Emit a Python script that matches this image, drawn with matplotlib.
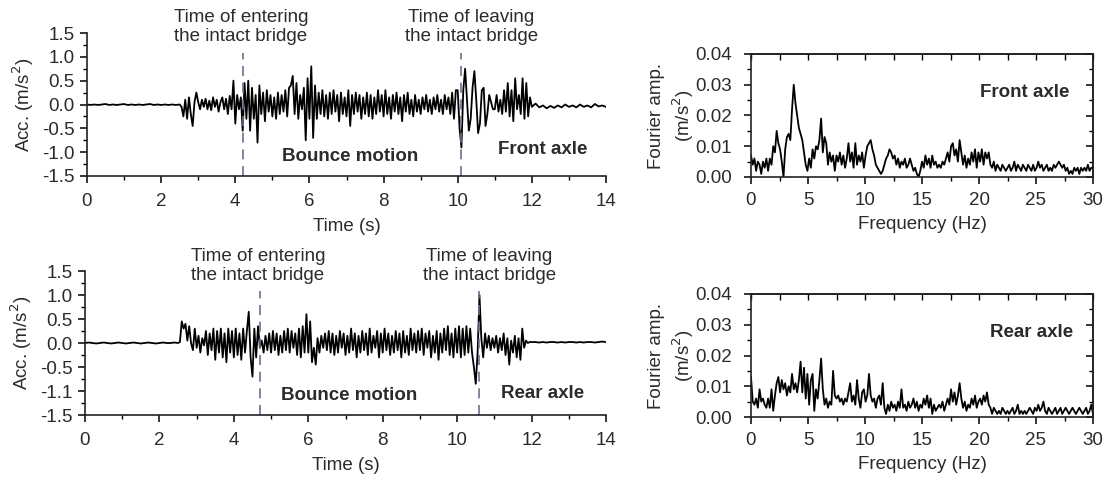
import numpy as np
import matplotlib
matplotlib.use("Agg")
import matplotlib.pyplot as plt
from matplotlib.ticker import MultipleLocator

plt.rcParams["font.family"] = ["Liberation Sans", "DejaVu Sans"]
plt.rcParams["font.size"] = 13.5

# ---- data ----
# quiet part before the vehicle reaches the bridge (0 .. 2.4 s, step 0.1 s)
front_lead = [0.0, -0.01, 0.0, -0.01, 0.0, 0.01, -0.01, 0.0, -0.01, 0.0,
              0.01, -0.01, 0.0, -0.01, 0.0, -0.01, 0.0, 0.01, -0.01, 0.0,
              -0.01, 0.0, -0.01, 0.0, -0.01]
rear_lead = [0.0, 0.01, 0.0, -0.01, 0.0, 0.01, 0.0, -0.01, 0.0, 0.01,
             0.0, -0.01, 0.0, 0.01, 0.0, -0.01, 0.0, 0.01, 0.0, -0.01,
             0.0, 0.01, 0.0, 0.0, 0.01]

# main record, 2.5 .. 12.0 s, step 0.05 s
front_acc = [
    0.0, -0.05, -0.25, 0.1, -0.3, 0.15, -0.2, -0.45, 0.05, 0.25,
    0.05, -0.1, 0.1, -0.05, 0.12, -0.1, 0.08, -0.12, 0.15, -0.05,
    0.1, -0.15, 0.05, 0.15, -0.1, 0.12, -0.2, 0.18, -0.1, 0.5,
    -0.4, 0.2, -0.1, 0.15, -0.55, 0.45, -0.3, 0.5, -0.55, 0.35,
    -0.3, 0.2, -0.8, 0.4, -0.2, 0.25, -0.35, 0.3, -0.15, 0.2,
    -0.25, 0.15, -0.3, 0.25, -0.2, 0.2, -0.15, 0.3, -0.25, 0.35,
    0.4, 0.6, -0.2, 0.45, -0.3, 0.2, -0.1, 0.35, -0.75, 0.55,
    -0.3, 0.8, -0.7, 0.4, -0.3, 0.25, -0.2, 0.3, -0.25, 0.2,
    -0.3, 0.25, -0.2, 0.3, -0.15, 0.2, -0.35, 0.25, -0.2, 0.15,
    -0.25, 0.3, -0.45, 0.2, -0.2, 0.25, -0.15, 0.2, -0.3, 0.15,
    -0.2, 0.25, -0.25, 0.2, -0.3, 0.15, -0.2, 0.3, -0.15, 0.2,
    -0.25, 0.3, -0.2, 0.15, -0.3, 0.2, -0.15, 0.25, -0.2, 0.15,
    -0.35, 0.2, -0.15, 0.25, -0.2, 0.1, -0.25, 0.2, -0.15, 0.1,
    -0.2, 0.15, -0.1, 0.2, -0.15, 0.1, -0.2, 0.15, -0.1, 0.2,
    -0.15, 0.1, -0.2, 0.2, -0.1, 0.15, -0.2, 0.25, -0.3, 0.3,
    0.3, -0.5, -0.9, 0.3, 0.75, 0.1, -0.55, -0.3, 0.35, 0.7,
    0.1, -0.6, -0.4, 0.3, 0.35, -0.45, -0.2, 0.2, 0.05, -0.1,
    -0.1, 0.2, -0.15, 0.1, -0.2, 0.3, -0.15, 0.45, -0.25, 0.3,
    -0.35, 0.55, -0.1, 0.2, -0.2, 0.55, -0.3, 0.45, -0.25, 0.15,
    -0.05,
]
rear_acc = [
    0.0, 0.02, 0.45, 0.3, 0.4, 0.05, 0.35, 0.0, -0.15, 0.3,
    -0.1, 0.15, -0.2, 0.1, -0.05, 0.25, -0.25, 0.2, -0.15, 0.3,
    -0.35, 0.25, -0.2, 0.3, -0.3, 0.2, -0.4, 0.3, -0.2, 0.25,
    -0.3, 0.3, -0.25, 0.2, -0.35, 0.3, -0.2, 0.25, 0.65, -0.3,
    -0.7, 0.3, -0.3, 0.35, -0.1, 0.05, -0.2, 0.15, -0.15, 0.2,
    -0.2, 0.25, -0.15, 0.2, -0.25, 0.15, -0.2, 0.25, -0.15, 0.3,
    -0.2, 0.25, -0.1, 0.2, -0.25, 0.3, -0.3, 0.35, -0.2, 0.6,
    -0.2, 0.45, -0.4, -0.1, -0.45, 0.1, -0.2, 0.15, -0.1, 0.2,
    -0.15, 0.25, -0.2, 0.2, -0.25, 0.15, -0.2, 0.25, -0.1, 0.2,
    -0.25, 0.15, -0.2, 0.3, -0.15, 0.2, -0.3, 0.15, -0.2, 0.25,
    -0.15, 0.2, -0.25, 0.3, -0.2, 0.15, -0.1, 0.25, -0.3, 0.2,
    -0.2, 0.3, -0.15, 0.2, -0.25, 0.15, -0.2, 0.25, -0.15, 0.2,
    -0.3, 0.25, -0.2, 0.15, -0.25, 0.3, -0.15, 0.2, -0.2, 0.25,
    -0.15, 0.3, -0.25, 0.2, -0.1, 0.25, -0.3, 0.15, -0.2, 0.25,
    -0.35, 0.2, -0.2, 0.3, -0.15, 0.35, -0.25, 0.2, -0.3, 0.3,
    -0.2, 0.35, -0.3, 0.3, -0.25, 0.35, -0.2, 0.3, -0.2, -0.5,
    -0.85, -0.2, 1.0, 0.1, -0.3, 0.2, -0.1, 0.15, -0.15, 0.1,
    -0.1, 0.15, -0.2, 0.1, -0.15, 0.2, -0.25, 0.1, -0.45, 0.05,
    -0.2, 0.15, -0.3, 0.1, -0.35, 0.3, -0.1, 0.05, 0.0, 0.02,
    0.02,
]

# after leaving (12.1 .. 14.0 s, step 0.1 s)
front_tail = [0.02, -0.06, -0.02, -0.08, -0.03, -0.07, -0.02, -0.06, 0.0, -0.05,
              -0.02, -0.06, 0.0, -0.05, -0.02, -0.06, 0.01, -0.04, -0.02, -0.05]
rear_tail = [0.02, 0.01, 0.02, 0.01, 0.02, 0.02, 0.01, 0.02, 0.01, 0.02,
             0.02, 0.01, 0.02, 0.01, 0.02, 0.02, 0.01, 0.02, 0.03, 0.02]

# Fourier amplitude, 0 .. 30 Hz, step 0.15 Hz
front_fft = [
    0.007, 0.004, 0.006, 0.002, 0.005, 0.004, 0.001, 0.005, 0.003, 0.006,
    0.002, 0.006, 0.004, 0.010, 0.008, 0.015, 0.011, 0.009, 0.005, 0.000,
    0.009, 0.013, 0.014, 0.012, 0.022, 0.030, 0.024, 0.020, 0.016, 0.014,
    0.012, 0.008, 0.004, 0.002, 0.006, 0.003, 0.009, 0.006, 0.010, 0.009,
    0.012, 0.019, 0.008, 0.013, 0.011, 0.004, 0.008, 0.005, 0.007, 0.002,
    0.007, 0.005, 0.008, 0.004, 0.007, 0.003, 0.006, 0.011, 0.005, 0.008,
    0.003, 0.011, 0.004, 0.007, 0.005, 0.008, 0.003, 0.007, 0.010, 0.011,
    0.012, 0.009, 0.007, 0.004, 0.003, 0.002, 0.001, 0.002, 0.004, 0.006,
    0.007, 0.009, 0.008, 0.006, 0.007, 0.004, 0.006, 0.003, 0.005, 0.004,
    0.006, 0.003, 0.004, 0.006, 0.004, 0.002, 0.003, 0.001, 0.000, 0.002,
    0.005, 0.003, 0.007, 0.004, 0.006, 0.003, 0.007, 0.004, 0.005, 0.003,
    0.004, 0.003, 0.005, 0.004, 0.006, 0.008, 0.005, 0.010, 0.011, 0.007,
    0.009, 0.005, 0.012, 0.008, 0.004, 0.007, 0.003, 0.006, 0.004, 0.008,
    0.005, 0.009, 0.003, 0.008, 0.005, 0.009, 0.004, 0.008, 0.006, 0.008,
    0.004, 0.003, 0.005, 0.002, 0.004, 0.003, 0.002, 0.004, 0.003, 0.002,
    0.003, 0.004, 0.002, 0.003, 0.005, 0.002, 0.004, 0.003, 0.002, 0.004,
    0.003, 0.002, 0.004, 0.003, 0.002, 0.004, 0.002, 0.003, 0.005, 0.003,
    0.004, 0.002, 0.003, 0.004, 0.002, 0.003, 0.002, 0.004, 0.003, 0.004,
    0.005, 0.004, 0.003, 0.004, 0.002, 0.003, 0.001, 0.002, 0.001, 0.003,
    0.002, 0.003, 0.001, 0.003, 0.002, 0.003, 0.002, 0.004, 0.002, 0.003,
    0.003,
]
rear_fft = [
    0.013, 0.005, 0.004, 0.006, 0.003, 0.009, 0.005, 0.006, 0.004, 0.003,
    0.006, 0.003, 0.009, 0.002, 0.007, 0.011, 0.013, 0.008, 0.012, 0.009,
    0.011, 0.007, 0.010, 0.008, 0.014, 0.009, 0.011, 0.008, 0.012, 0.018,
    0.008, 0.016, 0.006, 0.014, 0.004, 0.012, 0.014, 0.002, 0.009, 0.006,
    0.012, 0.019, 0.009, 0.004, 0.006, 0.003, 0.005, 0.004, 0.015, 0.007,
    0.006, 0.007, 0.005, 0.006, 0.004, 0.006, 0.005, 0.008, 0.011, 0.005,
    0.007, 0.004, 0.012, 0.006, 0.003, 0.008, 0.009, 0.005, 0.007, 0.014,
    0.007, 0.005, 0.006, 0.003, 0.006, 0.007, 0.004, 0.011, 0.003, 0.001,
    0.004, 0.002, 0.005, 0.003, 0.004, 0.002, 0.005, 0.003, 0.009, 0.003,
    0.004, 0.002, 0.005, 0.003, 0.004, 0.006, 0.003, 0.005, 0.002, 0.004,
    0.003, 0.006, 0.004, 0.007, 0.003, 0.006, 0.001, 0.004, 0.002, 0.003,
    0.004, 0.003, 0.005, 0.002, 0.004, 0.006, 0.004, 0.009, 0.005, 0.008,
    0.004, 0.007, 0.011, 0.006, 0.003, 0.005, 0.002, 0.004, 0.003, 0.006,
    0.004, 0.007, 0.003, 0.005, 0.006, 0.004, 0.007, 0.005, 0.008, 0.004,
    0.003, 0.001, 0.003, 0.002, 0.001, 0.002, 0.001, 0.003, 0.002, 0.001,
    0.002, 0.001, 0.002, 0.003, 0.001, 0.002, 0.004, 0.001, 0.002, 0.001,
    0.002, 0.001, 0.002, 0.003, 0.002, 0.001, 0.003, 0.002, 0.004, 0.002,
    0.003, 0.005, 0.002, 0.001, 0.003, 0.002, 0.001, 0.002, 0.003, 0.001,
    0.002, 0.003, 0.001, 0.002, 0.003, 0.002, 0.001, 0.002, 0.003, 0.002,
    0.001, 0.002, 0.003, 0.002, 0.001, 0.002, 0.003, 0.001, 0.002, 0.004,
    0.001,
]

enter_time = [4.2, 4.7]
leave_time = [10.1, 10.6]
axle_names = ["Front axle", "Rear axle"]
y_labels_time = [["-1.5", "-1.0", "-0.5", "0.0", "0.5", "1.0", "1.5"],
                 ["-1.5", "-1.1", "-0.5", "0.0", "0.5", "1.0", "1.5"]]

t_lead = np.round(np.arange(len(front_lead)) * 0.1, 3)
t_main = np.round(2.5 + np.arange(len(front_acc)) * 0.05, 3)
t_tail = np.round(12.1 + np.arange(len(front_tail)) * 0.1, 3)
time = np.concatenate([t_lead, t_main, t_tail])
freq = np.round(np.arange(len(front_fft)) * 0.15, 3)

acc_series = [np.concatenate([front_lead, front_acc, front_tail]),
              np.concatenate([rear_lead, rear_acc, rear_tail])]
fft_series = [front_fft, rear_fft]

W, H = 1110, 479
fig = plt.figure(figsize=(W / 100, H / 100), dpi=100)


def px_axes(l, t, r, b):
    return fig.add_axes([l / W, 1 - b / H, (r - l) / W, (b - t) / H])


txt_col = "#2b2b2b"
dash_col = "#6b7090"
fs = 13.5

time_boxes = [(87, 33, 606, 176), (85, 271, 606, 415)]
fft_boxes = [(751, 54, 1093, 177), (751, 294, 1093, 417)]
label_y = [1.63, 1.6]
axle_y = [-0.95, -1.05]
fft_label_x = [0.80, 0.82]

for i in range(2):
    ax = px_axes(*time_boxes[i])
    ax.plot(time, acc_series[i], color="black", lw=1.3)
    ax.set_xlim(0, 14)
    ax.set_ylim(-1.5, 1.5)
    ax.xaxis.set_major_locator(MultipleLocator(2))
    ax.xaxis.set_minor_locator(MultipleLocator(1))
    ax.set_yticks([-1.5, -1.0, -0.5, 0.0, 0.5, 1.0, 1.5])
    ax.set_yticklabels(y_labels_time[i])
    ax.yaxis.set_minor_locator(MultipleLocator(0.25))
    for s in ["top", "right"]:
        ax.spines[s].set_visible(False)
    for s in ["left", "bottom"]:
        ax.spines[s].set_linewidth(1.2)
        ax.spines[s].set_color("#222222")
    ax.tick_params(which="major", direction="out", length=5, width=1.1,
                   labelsize=fs, labelcolor=txt_col)
    ax.tick_params(axis="x", which="major", pad=7)
    ax.tick_params(axis="y", which="major", pad=4)
    ax.tick_params(which="minor", direction="out", length=3, width=1.0)
    ax.set_xlabel("Time (s)", fontsize=fs, color=txt_col, labelpad=6)
    ax.set_ylabel("Acc. (m/s$^2$)", fontsize=fs, color=txt_col, labelpad=4)

    for xv in (enter_time[i], leave_time[i]):
        ax.plot([xv, xv], [-1.5, 1.08], color=dash_col, lw=1.2,
                dashes=(6, 4), clip_on=False)
    ax.text(enter_time[i] - 0.05, label_y[i], "Time of entering\nthe intact bridge",
            ha="center", va="center", fontsize=fs, color=txt_col,
            linespacing=1.15, clip_on=False)
    ax.text(leave_time[i] + 0.27, label_y[i], "Time of leaving\nthe intact bridge",
            ha="center", va="center", fontsize=fs, color=txt_col,
            linespacing=1.15, clip_on=False)
    ax.text(7.1, -1.1, "Bounce motion", ha="center", va="center",
            fontsize=fs, fontweight="bold", color=txt_col)
    ax.text(12.3, axle_y[i], axle_names[i], ha="center",
            va="center", fontsize=fs, fontweight="bold", color=txt_col)

    # Fourier spectrum
    bx = px_axes(*fft_boxes[i])
    bx.plot(freq, fft_series[i], color="black", lw=1.3)
    bx.set_xlim(0, 30)
    bx.set_ylim(0, 0.04)
    bx.xaxis.set_major_locator(MultipleLocator(5))
    bx.xaxis.set_minor_locator(MultipleLocator(2.5))
    bx.set_yticks([0.0, 0.01, 0.02, 0.03, 0.04])
    bx.set_yticklabels(["0.00", "0.01", "0.02", "0.03", "0.04"])
    bx.yaxis.set_minor_locator(MultipleLocator(0.005))
    for s in bx.spines.values():
        s.set_linewidth(1.2)
        s.set_color("#222222")
    bx.tick_params(which="major", direction="out", length=5, width=1.1,
                   labelsize=fs, labelcolor=txt_col)
    bx.tick_params(axis="x", which="major", pad=6)
    bx.tick_params(axis="y", which="major", pad=9)
    bx.tick_params(which="minor", direction="out", length=3, width=1.0)
    top = bx.secondary_xaxis("top")
    top.xaxis.set_major_locator(MultipleLocator(5))
    top.xaxis.set_minor_locator(MultipleLocator(2.5))
    top.tick_params(which="both", direction="in", length=4, width=1.0,
                    labeltop=False)
    right = bx.secondary_yaxis("right")
    right.yaxis.set_major_locator(MultipleLocator(0.01))
    right.yaxis.set_minor_locator(MultipleLocator(0.005))
    right.tick_params(which="major", direction="in", length=5, width=1.1,
                      labelright=False)
    right.tick_params(which="minor", direction="in", length=3, width=1.0)
    for sec in (top, right):
        for s in sec.spines.values():
            s.set_linewidth(1.2)
            s.set_color("#222222")
    bx.set_xlabel("Frequency (Hz)", fontsize=fs, color=txt_col, labelpad=5)
    bx.set_ylabel("Fourier amp.\n(m/s$^2$)", fontsize=fs, color=txt_col,
                  labelpad=-1, linespacing=1.3)
    bx.text(fft_label_x[i], 0.69, axle_names[i], transform=bx.transAxes,
            ha="center", va="center", fontsize=fs, fontweight="bold",
            color=txt_col)

fig.savefig("out.png", dpi=100)
